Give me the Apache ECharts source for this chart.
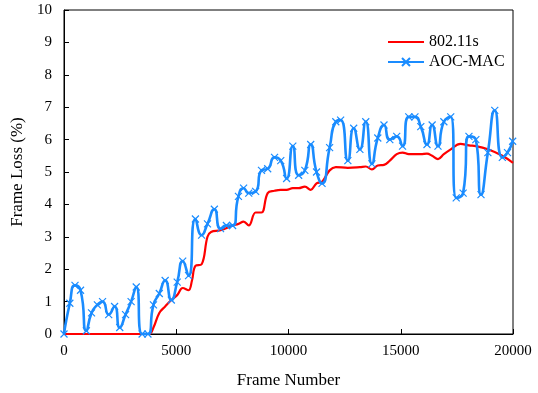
<!DOCTYPE html>
<html><head><meta charset="utf-8">
<script src="https://cdn.jsdelivr.net/npm/echarts@6/dist/echarts.min.js"></script>
<style>html,body{margin:0;padding:0;background:#fff}#c{width:538px;height:393px}</style>
</head><body><div id="c"></div>
<script>
const aocX = [0,260,490,736,996,1226,1487,1716,1992,2253,2483,2743,2989,3218,3479,3739,3985,4245,4506,4781,5042,5287,5548,5854,6130,6391,6697,6973,7234,7510,7770,8000,8230,8536,8797,9073,9379,9655,9916,10192,10452,10728,10989,11249,11494,11831,12107,12322,12644,12904,13180,13441,13716,13977,14253,14513,14820,15080,15356,15632,15893,16169,16398,16659,16920,17226,17471,17778,18038,18345,18575,18881,19188,19525,19755,19985];
const aocY = [0,0.95,1.5,1.35,0.1,0.65,0.9,1.0,0.6,0.85,0.2,0.6,1.0,1.45,0.0,0.0,0.9,1.25,1.65,1.05,1.6,2.25,1.8,3.55,3.05,3.4,3.85,3.25,3.35,3.35,4.25,4.5,4.35,4.4,5.05,5.1,5.45,5.35,4.8,5.8,4.9,5.05,5.85,5.0,4.65,5.75,6.55,6.6,5.35,6.35,5.7,6.55,5.25,6.05,6.45,6.0,6.1,5.8,6.7,6.7,6.4,5.85,6.45,5.8,6.55,6.7,4.2,4.35,6.1,6.0,4.3,5.6,6.9,5.45,5.6,5.95];
const stdX = [0,1000,2000,3000,3600,3800,3985,4245,4506,4781,5042,5287,5548,5700,5854,6130,6391,6550,6973,7510,7770,8000,8230,8536,8797,9073,9379,9655,9916,10192,10452,10728,10989,11249,11494,11831,12107,12644,13180,13441,13716,13977,14253,14513,14820,15080,15356,15893,16169,16398,16659,16920,17226,17655,18038,18345,18881,19525,20000];
const stdY = [0,0,0,0,0,0,0.2,0.65,0.85,1.05,1.2,1.42,1.35,1.65,2.1,2.15,3.0,3.15,3.2,3.35,3.4,3.47,3.35,3.75,3.75,4.35,4.42,4.45,4.45,4.5,4.5,4.55,4.45,4.65,4.7,5.05,5.15,5.13,5.15,5.17,5.08,5.2,5.22,5.35,5.55,5.6,5.55,5.55,5.57,5.5,5.4,5.55,5.7,5.87,5.82,5.8,5.7,5.5,5.28];
const seriesNames = ['802.11s','AOC-MAC'];
const xTicks = [0,5000,10000,15000,20000];

const font = 'Liberation Serif, Times New Roman, serif';
const chart = echarts.init(document.getElementById('c'));
const zip = (xs, ys) => xs.map((x,i)=>[x, ys[i]]);
const legendText = {fontFamily:font,fontSize:16,color:'#000'};
chart.setOption({
  animation:false,
  grid:{left:64,right:25,top:10,bottom:59,show:true,borderColor:'#000',borderWidth:1,
        containLabel:false, outerBoundsMode:'none'},
  legend:[
    {orient:'vertical', left:382, top:29, itemWidth:36, itemHeight:2,
     textStyle:legendText, data:[seriesNames[0]]},
    {orient:'vertical', left:382, top:49, itemWidth:36, itemHeight:10,
     textStyle:legendText, data:[seriesNames[1]]}
  ],
  xAxis:{
    type:'value', min:0, max:20000, interval:5000,
    name:'Frame Number', nameLocation:'middle', nameGap:38,
    nameTextStyle:{fontFamily:font,fontSize:17,color:'#000'},
    axisLine:{lineStyle:{color:'#000'}},
    axisTick:{inside:true,length:5,lineStyle:{color:'#000'}},
    axisLabel:{fontFamily:font,fontSize:15,color:'#000',margin:10,formatter:v=>String(v)},
    splitLine:{show:false}
  },
  yAxis:{
    type:'value', min:0, max:10, interval:1,
    name:'Frame Loss (%)', nameLocation:'middle', nameGap:34, nameRotate:90,
    nameTextStyle:{fontFamily:font,fontSize:17,color:'#000'},
    axisLine:{lineStyle:{color:'#000'}},
    axisTick:{inside:true,length:5,lineStyle:{color:'#000'}},
    axisLabel:{fontFamily:font,fontSize:15,color:'#000',margin:12},
    splitLine:{show:false}
  },
  series:[
    {name:seriesNames[0], type:'line', smooth:0.4, symbol:'none',
     lineStyle:{color:'#ff0000',width:2.2}, itemStyle:{color:'#ff0000'},
     data:zip(stdX,stdY), z:2},
    {name:seriesNames[1], type:'line', smooth:0.6,
     symbol:'path://M0,0L10,10M10,0L0,10', symbolSize:7,
     lineStyle:{color:'#1a8cff',width:2.6},
     itemStyle:{color:'#1a8cff',borderColor:'#1a8cff',borderWidth:1.2},
     data:zip(aocX,aocY), z:3}
  ]
});
</script></body></html>
